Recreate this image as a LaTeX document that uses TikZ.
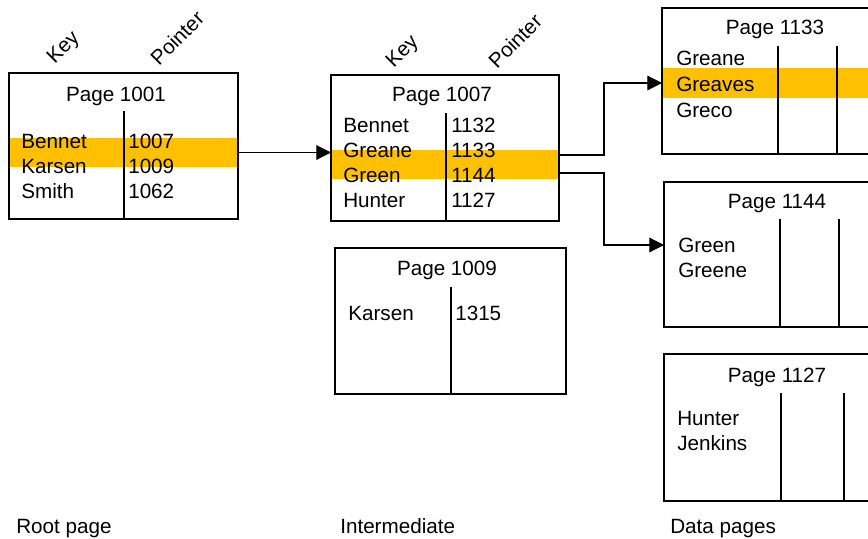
\documentclass[tikz,border=0pt]{standalone}
\usepackage{fontspec}
\setmainfont{Liberation Sans}
\usetikzlibrary{arrows.meta}
\definecolor{hilite}{HTML}{FFC000}
\tikzset{
    pagebox/.style = {rectangle, draw=black, line width=0.9pt, inner sep=0pt, outer sep=0pt},
    band/.style = {rectangle, fill=hilite, inner sep=0pt, outer sep=0pt},
    txt/.style = {anchor=base west, inner sep=0pt},
    title/.style = {anchor=base, inner sep=0pt},
    colname/.style = {rotate=45, inner sep=0pt},
    divider/.style = {line width=0.9pt},
    link/.style = {-{Triangle[length=11pt,width=11pt]}, line width=0.9pt},
    every node/.style = {font=\fontsize{15.5pt}{18pt}\selectfont}
}

\begin{document}
\begin{tikzpicture}[x=0.75pt,y=-0.75pt]
\clip (0,0) rectangle (868,539);

% highlighted rows
\node[band, minimum width=171.75pt, minimum height=21.75pt] at (123.5,152.5) (b1001) {};
\node[band, minimum width=171pt, minimum height=21.75pt] at (445,164.5) (b1007) {};
\node[band, minimum width=178.5pt, minimum height=22.5pt] at (781,83) (b1133) {};

% pages
\node[pagebox, minimum width=171.75pt, minimum height=109.5pt] at (123.5,146) (p1001) {};
\node[pagebox, minimum width=171pt, minimum height=109.5pt] at (445,148) (p1007) {};
\node[pagebox, minimum width=173.25pt, minimum height=109.5pt] at (450.5,321) (p1009) {};
\node[pagebox, minimum width=178.5pt, minimum height=109.5pt] at (781,81) (p1133) {};
\node[pagebox, minimum width=177pt, minimum height=108.75pt] at (782,254.5) (p1144) {};
\node[pagebox, minimum width=177pt, minimum height=110.25pt] at (782,427.5) (p1127) {};

\draw[divider] (124,111) -- (124,219);
\draw[divider] (446,113) -- (446,221);
\draw[divider] (451,287) -- (451,394);
\draw[divider] (778,46) -- (778,154);
\draw[divider] (837,46) -- (837,154);
\draw[divider] (780,219) -- (780,327);
\draw[divider] (839,219) -- (839,327);
\draw[divider] (781,393) -- (781,501);
\draw[divider] (844,393) -- (844,501);

% column names
\node[colname] at (64,48) (k1) {Key};
\node[colname] at (177,38) (c1) {Pointer};
\node[colname] at (403,52) (k2) {Key};
\node[colname] at (515,41) (c2) {Pointer};

% root page
\node[title] at (116,101) (t1001) {Page 1001};
\node[txt] at (21,148) (r1) {Bennet};
\node[txt] at (21,173) (r2) {Karsen};
\node[txt] at (21,198) (r3) {Smith};
\node[txt] at (128,148) (r4) {1007};
\node[txt] at (128,173) (r5) {1009};
\node[txt] at (128,198) (r6) {1062};

% intermediate pages
\node[title] at (442,101) (t1007) {Page 1007};
\node[txt] at (343,132) (m1) {Bennet};
\node[txt] at (343,157) (m2) {Greane};
\node[txt] at (343,182) (m3) {Green};
\node[txt] at (343,207) (m4) {Hunter};
\node[txt] at (451,132) (m5) {1132};
\node[txt] at (451,157) (m6) {1133};
\node[txt] at (451,182) (m7) {1144};
\node[txt] at (451,207) (m8) {1127};

\node[title] at (447,275) (t1009) {Page 1009};
\node[txt] at (348,320) (n1) {Karsen};
\node[txt] at (455,320) (n2) {1315};

% data pages
\node[title] at (775,35) (t1133) {Page 1133};
\node[txt] at (676,65) (d1) {Greane};
\node[txt] at (676,91) (d2) {Greaves};
\node[txt] at (676,117) (d3) {Greco};

\node[title] at (777,208) (t1144) {Page 1144};
\node[txt] at (678,252) (e1) {Green};
\node[txt] at (678,277) (e2) {Greene};

\node[title] at (777,382) (t1127) {Page 1127};
\node[txt] at (677,425) (f1) {Hunter};
\node[txt] at (677,450) (f2) {Jenkins};

% captions
\node[txt] at (16,533) (cap1) {Root page};
\node[txt] at (340,533) (cap2) {Intermediate};
\node[txt] at (670,533) (cap3) {Data pages};

% pointers
\coordinate (o1133) at (559,155);
\coordinate (o1144) at (559,173);
\coordinate (i1144) at (664,245);
\draw[link] (b1001.east) -- (p1007.west |- b1001.east);
\draw[link] (o1133) -- ++(45,0) |- (b1133.west);
\draw[link] (o1144) -- ++(45,0) |- (i1144);

\end{tikzpicture}
\end{document}
